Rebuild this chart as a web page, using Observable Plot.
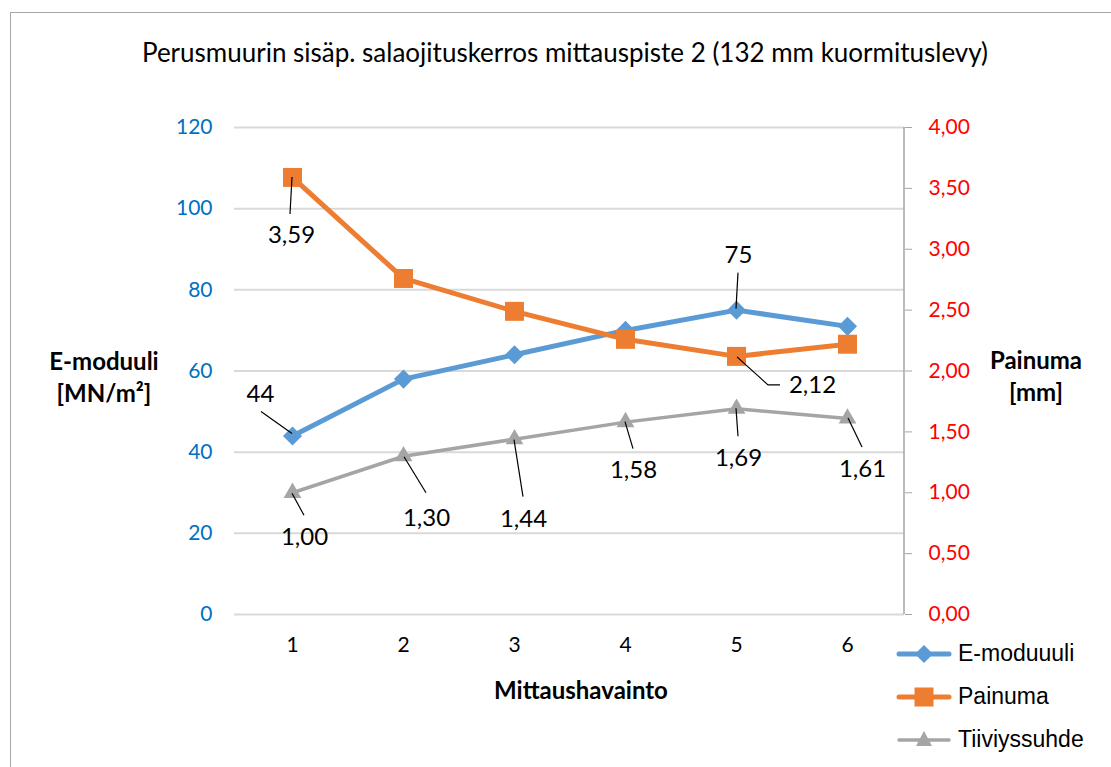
<!DOCTYPE html>
<html>
<head>
<meta charset="utf-8">
<script src="https://cdn.jsdelivr.net/npm/d3@7"></script>
<script src="https://cdn.jsdelivr.net/npm/@observablehq/plot@0.6"></script>
<style>
  html, body { margin: 0; padding: 0; background: #fff; overflow: hidden; }
  #wrap { position: relative; width: 1111px; height: 767px; overflow: hidden; font-family: Lato, "Noto Sans", sans-serif; }
  #border { position: absolute; left: 10px; top: 12px; width: 1130px; height: 790px; border: 1.5px solid #a6a6a6; box-sizing: border-box; }
  #chart { position: absolute; left: 0; top: 0; }
  .t { position: absolute; transform: translate(-50%, -50%); white-space: nowrap; text-align: center; color: #000; }
  #title { left: 565px; top: 52px; font-size: 26px; }
  .axt { font-weight: bold; font-size: 24px; line-height: 32px; }
  #ylab { left: 104px; top: 377px; }
  #y2lab { left: 1036px; top: 376px; }
  #xlab { left: 581px; top: 690px; }
  #legend { position: absolute; left: 896px; top: 632px; font-family: "Liberation Sans", Arial, sans-serif; font-size: 23px; }
  .li { height: 43px; display: flex; align-items: center; }
  .li svg { margin-right: 4px; }
</style>
</head>
<body>
<div id="wrap">
  <div id="border"></div>
  <div id="chart"></div>
  <div id="title" class="t">Perusmuurin sisäp. salaojituskerros mittauspiste 2 (132 mm kuormituslevy)</div>
  <div id="ylab" class="t axt">E-moduuli<br>[MN/m²]</div>
  <div id="y2lab" class="t axt">Painuma<br>[mm]</div>
  <div id="xlab" class="t axt">Mittaushavainto</div>
  <div id="legend"></div>
</div>
<script>
// ---- data ----
const observations = [1, 2, 3, 4, 5, 6];
const eModuuli = [44, 58, 64, 70, 75, 71];
const painuma = [3.59, 2.76, 2.49, 2.26, 2.12, 2.22];
const tiiviyssuhde = [1.00, 1.30, 1.44, 1.58, 1.69, 1.61];
const leftTicks = [0, 20, 40, 60, 80, 100, 120];
const rightTicks = [0, 0.5, 1.0, 1.5, 2.0, 2.5, 3.0, 3.5, 4.0];
const seriesNames = ["E-moduuuli", "Painuma", "Tiiviyssuhde"];
const labelledE = [0, 4];
const labelledP = [0, 4];
const labelledT = [0, 1, 2, 3, 4, 5];

// ---- style / layout config ----
const colors = { e: "#5b9bd5", p: "#ed7d31", t: "#a5a5a5" };
const leftMax = 120, rightMax = 4;
const k = leftMax / rightMax; // secondary axis -> primary axis units
const fmt2 = v => v.toFixed(2).replace(".", ",");
// label offsets (px) relative to the point, and leader polylines (px offsets)
const labelLayout = {
  e: { 0: { dx: -32, dy: -42, lead: [[0, -2], [-31, -24]] },
       4: { dx: 2, dy: -55, lead: [[0, -1], [2, -37]] } },
  p: { 0: { dx: -1, dy: 58, lead: [[0, 0], [-2, 37]] },
       4: { dx: 76, dy: 29, lead: [[1, 1], [32, 29], [44, 29]] } },
  t: { 0: { dx: 12, dy: 45, lead: [[0, 1], [12, 23]] },
       1: { dx: 23, dy: 62, lead: [[1, 1], [23, 37]] },
       2: { dx: 9, dy: 80, lead: [[0, 1], [9, 58]] },
       3: { dx: 8, dy: 48, lead: [[0, 0], [8, 27]] },
       4: { dx: 2, dy: 50, lead: [[0, 0], [2, 28]] },
       5: { dx: 15, dy: 51, lead: [[1, 0], [15, 29]] } }
};

const rows = observations.map((o, i) => ({ obs: o, e: eModuuli[i], p: painuma[i] * k, t: tiiviyssuhde[i] * k,
  pRaw: painuma[i], tRaw: tiiviyssuhde[i], i }));

function labelMarks(key, idxs, textFn) {
  return idxs.map(i => {
    const L = labelLayout[key][i];
    return Plot.text([rows[i]], { x: "obs", y: key, text: textFn, dx: L.dx, dy: L.dy,
      fontSize: 24, fill: "#000", fontFamily: "Lato, sans-serif" });
  });
}

const plot = Plot.plot({
  width: 1111,
  height: 767,
  marginLeft: 234,
  marginRight: 207,
  marginTop: 127,
  marginBottom: 153,
  style: { fontFamily: "Lato, sans-serif", fontSize: "21px", background: "transparent", overflow: "visible" },
  x: { type: "point", domain: observations, padding: 0.5 },
  y: { domain: [0, leftMax] },
  marks: [
    Plot.gridY(leftTicks, { stroke: "#d9d9d9", strokeOpacity: 1, strokeWidth: 2 }),
    Plot.axisY(leftTicks, { anchor: "left", tickSize: 0, tickPadding: 22, fill: "#0070c0", label: null, fontSize: 21 }),
    Plot.axisY(rightTicks.map(v => v * k), { anchor: "right", tickSize: 7, tickPadding: 17, stroke: "#a6a6a6",
      fill: "#ff0000", tickFormat: v => fmt2(v / k), label: null, fontSize: 21 }),
    Plot.axisX(observations, { anchor: "bottom", tickSize: 0, tickPadding: 23, fill: "#000", label: null, fontSize: 21 }),
    Plot.line(rows, { x: "obs", y: "e", stroke: colors.e, strokeWidth: 5, strokeLinejoin: "round" }),
    Plot.dot(rows, { x: "obs", y: "e", symbol: "diamond2", r: 8.6, fill: colors.e, stroke: "none" }),
    Plot.line(rows, { x: "obs", y: "p", stroke: colors.p, strokeWidth: 5, strokeLinejoin: "round" }),
    Plot.dot(rows, { x: "obs", y: "p", symbol: "square", r: 10.7, fill: colors.p, stroke: "none" }),
    Plot.line(rows, { x: "obs", y: "t", stroke: colors.t, strokeWidth: 3.5, strokeLinejoin: "round" }),
    Plot.dot(rows, { x: "obs", y: "t", symbol: "triangle", r: 6.6, fill: colors.t, stroke: "none" }),
    ...labelMarks("e", labelledE, d => String(d.e)),
    ...labelMarks("p", labelledP, d => fmt2(d.pRaw)),
    ...labelMarks("t", labelledT, d => fmt2(d.tRaw))
  ]
});
document.getElementById("chart").appendChild(plot);

// right axis line and leader lines, positioned via Plot's own scales
const xs = plot.scale("x"), ys = plot.scale("y");
const svg = d3.select(plot);
svg.append("line")
  .attr("x1", 904).attr("x2", 904)
  .attr("y1", ys.apply(0)).attr("y2", ys.apply(leftMax))
  .attr("stroke", "#a6a6a6").attr("stroke-width", 1.5);
const lineGen = d3.line();
[["e", labelledE], ["p", labelledP], ["t", labelledT]].forEach(([key, idxs]) => {
  idxs.forEach(i => {
    const px = xs.apply(rows[i].obs), py = ys.apply(rows[i][key]);
    const pts = labelLayout[key][i].lead.map(([ox, oy]) => [px + ox, py + oy]);
    svg.append("path").attr("d", lineGen(pts)).attr("fill", "none").attr("stroke", "#000").attr("stroke-width", 1.2);
  });
});

// legend
const legendSymbols = ["diamond", "square", "triangle"];
const legendColors = [colors.e, colors.p, colors.t];
const legendWidths = [5, 5, 3.5];
const leg = document.getElementById("legend");
seriesNames.forEach((name, i) => {
  const item = document.createElement("div");
  item.className = "li";
  let shape;
  if (legendSymbols[i] === "diamond") shape = `<path d="M28,11 L37,20 L28,29 L19,20 Z" fill="${legendColors[i]}"/>`;
  else if (legendSymbols[i] === "square") shape = `<rect x="18.5" y="10.5" width="19" height="19" fill="${legendColors[i]}"/>`;
  else shape = `<path d="M28,11 L36,26 L20,26 Z" fill="${legendColors[i]}"/>`;
  item.innerHTML = `<svg width="58" height="40"><line x1="3" x2="53" y1="20" y2="20" stroke="${legendColors[i]}" stroke-width="${legendWidths[i]}" stroke-linecap="round"/>${shape}</svg><span>${name}</span>`;
  leg.appendChild(item);
});
</script>
</body>
</html>
